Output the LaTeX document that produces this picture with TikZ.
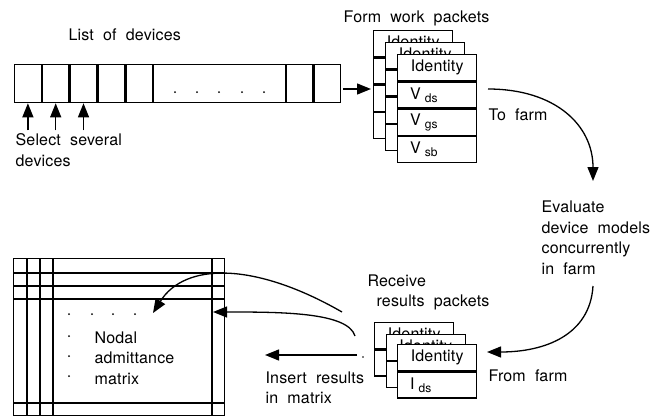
\documentclass[tikz,border=0pt]{standalone}
\usepackage{fontspec}
\setmainfont{TeX Gyre Heros}[LetterSpace=1,WordSpace=2]
\usetikzlibrary{arrows.meta,positioning,calc}
\newcommand\subtxt[1]{\kern4pt\raisebox{-3pt}{\fontsize{12}{12}\selectfont #1}}

\begin{document}
\begin{tikzpicture}[
  x=1pt, y=-1pt,
  line width=1.3pt,
  lbl/.style={font=\fontsize{16}{20.5}\selectfont, inner sep=0pt, align=left},
  cell/.style={draw, minimum width=26.5pt, minimum height=38pt, inner sep=0pt, anchor=north west},
  row/.style={draw, fill=white, minimum width=79pt, minimum height=26pt, inner sep=0pt, font=\fontsize{16}{20}\selectfont},
  vrow/.style={row, text width=54pt, align=left},
  tip/.style={-{Triangle[length=14pt,width=11pt]}}]

\useasboundingbox (0,0) rectangle (657,418);

% list of devices
\node[lbl, anchor=west] (listlbl) at (68,35) {List of devices};
\node[cell] (c1) at (14,64) {};
\node[cell, right=0pt of c1] (c2) {};
\node[cell, right=0pt of c2] (c3) {};
\node[cell, right=0pt of c3] (c4) {};
\node[cell, right=0pt of c4] (c5) {};
\node[cell, right=0pt of c5, minimum width=131.5pt] (c6) {};
\node[cell, right=0pt of c6] (c7) {};
\node[cell, right=0pt of c7] (c8) {};
\foreach \x in {175,197,219,242,264}
  \fill (\x,92) circle (1pt);

\foreach \i in {1,2,3} {
  \coordinate (s\i) at ($(c\i.south)+(0,27)$);
  \draw[tip] (s\i) -- (c\i.south);
}
\node[lbl, anchor=north west] (sel) at (15,133) {Select several\\devices};

% work packets
\node[lbl, anchor=west] (formlbl) at (343,18) {Form work packets};
\foreach \k/\d in {a/0,b/12} {
  \node[row, anchor=north west] (w\k1) at (373+\d,30+\d) {Identity};
  \node[row, below=0pt of w\k1] (w\k2) {};
  \node[row, below=0pt of w\k2] (w\k3) {};
  \node[row, below=0pt of w\k3] (w\k4) {};
}
\node[row, anchor=north west] (wc1) at (397,54) {Identity};
\node[vrow, below=0pt of wc1] (wc2) {V\subtxt{ds}};
\node[vrow, below=0pt of wc2] (wc3) {V\subtxt{gs}};
\node[vrow, below=0pt of wc3] (wc4) {V\subtxt{sb}};

\coordinate (la) at (343,89);
\draw[tip, shorten >=2pt] (la) -- (la -| wa1.west);

% to the farm and back
\node[lbl, anchor=west] (tofarm) at (488,115) {To farm};
\node[lbl, anchor=west] (eval) at (541,238) {Evaluate\\device models\\concurrently\\in farm};
\coordinate (tf1) at (488,89);
\coordinate (tf2) at (593,181);
\draw[tip] (tf1) .. controls (555,89) and (593,125) .. (tf2);

\coordinate (ff1) at (593,286);
\coordinate (ff2) at (487,352);
\draw[tip] (ff1) .. controls (590,335) and (545,352) .. (ff2);
\node[lbl, anchor=west] (fromfarm) at (488,376) {From farm};

% results packets
\node[lbl, anchor=north west] (recv) at (367,274) {Receive\\\hspace{9pt}results packets};
\foreach \k/\d in {a/0,b/11.5} {
  \node[row, anchor=north west] (r\k1) at (374+\d,322+\d) {Identity};
  \node[row, below=0pt of r\k1] (r\k2) {};
}
\node[row, anchor=north west] (rc1) at (397,344) {Identity};
\node[vrow, below=0pt of rc1] (rc2) {I\subtxt{ds}};

% admittance matrix
\node[draw, minimum width=211pt, minimum height=157pt, inner sep=0pt, anchor=north west] (mat) at (13,258) {};
\foreach \x in {27,40,53,212}
  \draw (\x,258) -- (\x,415);
\foreach \y in {273,286,299,403}
  \draw (13,\y) -- (224,\y);
\foreach \x in {69,92,113,135}
  \fill (\x,314) circle (1pt);
\foreach \y in {336,356,376}
  \fill (69,\y) circle (1pt);
\node[lbl, anchor=north west] (nodal) at (94,331) {Nodal\\admittance\\matrix};

\coordinate (mt1) at (153,313);
\coordinate (mt2) at (213,312);
\coordinate (mt3) at (265,355);
\coordinate (ib) at (342,312);
\coordinate (ia) at (355,336);
\coordinate (ir) at (357,355);
\draw[tip] (ib) .. controls (255,262) and (185,262) .. (mt1);
\draw[tip] (ia) .. controls (348,312) and (280,312) .. (mt2);
\draw[tip] (ir) -- (mt3);
\fill (363,357) circle (0.8pt);
\node[lbl, anchor=north west] (ins) at (265,371) {Insert results\\in matrix};
\end{tikzpicture}
\end{document}
